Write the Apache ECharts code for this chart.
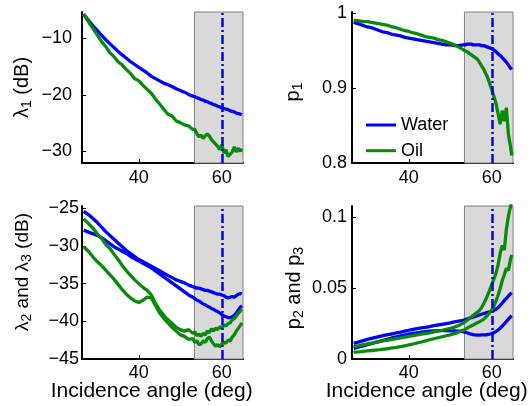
<!DOCTYPE html>
<html>
<head>
<meta charset="utf-8">
<script src="https://cdn.jsdelivr.net/npm/echarts@6/dist/echarts.min.js"></script>
<style>
html,body{margin:0;padding:0;background:#fff;}
#chart{width:531px;height:406px;}
</style>
</head>
<body>
<div id="chart"></div>
<script>
// ---------------- data ----------------
const angles = [26.7, 28, 29, 30, 31, 32, 33, 34, 35, 36, 37, 38, 39, 40, 41, 42, 43, 44, 45, 46, 47, 48, 49, 50, 51, 52, 53,
  53.5, 54, 54.5, 55, 55.5, 56, 56.5, 57, 57.5, 58, 58.5, 59, 59.5, 60, 60.5, 61, 61.5, 62, 62.5, 63, 63.5, 64, 64.5, 64.8];

const lambda1Water = [-5.7, -6.9, -7.8, -8.6, -9.4, -10.2, -10.9, -11.6, -12.3, -12.9, -13.5, -14.1, -14.6, -15.1, -15.6, -16.1, -16.7, -17.1, -17.5, -17.9, -18.2, -18.5, -18.9, -19.2, -19.5, -19.9, -20.2,
  -20.3, -20.5, -20.6, -20.8, -20.9, -21.1, -21.2, -21.4, -21.5, -21.7, -21.8, -22.0, -22.1, -22.3, -22.4, -22.5, -22.6, -22.8, -22.9, -23.0, -23.2, -23.3, -23.4, -23.5];
const lambda1Oil = [-5.7, -7.2, -8.3, -9.4, -10.5, -11.4, -12.5, -13.2, -14.1, -14.7, -15.5, -16.2, -17.1, -17.5, -18.3, -19.0, -19.7, -20.7, -21.6, -22.5, -23.4, -23.7, -24.6, -24.9, -25.3, -25.5, -26.1,
  -26.1, -26.9, -27.4, -27.1, -27.7, -27.2, -26.9, -27.3, -27.9, -28.3, -28.7, -29.1, -29.7, -28.8, -30.3, -29.7, -30.9, -30.5, -30.1, -29.2, -30.1, -29.4, -30.0, -29.5];

const p1Water = [0.988, 0.986, 0.984, 0.982, 0.981, 0.979, 0.977, 0.975, 0.974, 0.972, 0.971, 0.970, 0.968, 0.967, 0.966, 0.965, 0.964, 0.963, 0.962, 0.961, 0.960, 0.959, 0.958, 0.958, 0.957, 0.957, 0.958,
  0.958, 0.959, 0.959, 0.959, 0.958, 0.958, 0.958, 0.958, 0.957, 0.957, 0.956, 0.955, 0.954, 0.953, 0.951, 0.949, 0.946, 0.944, 0.941, 0.938, 0.935, 0.931, 0.927, 0.925];
const p1Oil = [0.991, 0.990, 0.989, 0.989, 0.988, 0.987, 0.986, 0.985, 0.984, 0.982, 0.981, 0.979, 0.977, 0.976, 0.974, 0.973, 0.971, 0.969, 0.968, 0.967, 0.965, 0.964, 0.962, 0.960, 0.958, 0.955, 0.952,
  0.950, 0.949, 0.947, 0.945, 0.943, 0.941, 0.939, 0.935, 0.930, 0.926, 0.920, 0.914, 0.906, 0.898, 0.889, 0.880, 0.866, 0.852, 0.870, 0.856, 0.874, 0.838, 0.822, 0.810];

const lambda2Water = [-25.4, -25.9, -26.4, -26.9, -27.5, -28.1, -28.6, -29.1, -29.6, -30.1, -30.6, -31.0, -31.4, -31.8, -32.1, -32.4, -32.7, -33.0, -33.3, -33.6, -33.9, -34.2, -34.5, -34.7, -34.9, -35.2, -35.4,
  -35.5, -35.6, -35.6, -35.7, -35.8, -35.9, -35.9, -36.0, -36.1, -36.2, -36.3, -36.4, -36.4, -36.5, -36.6, -36.8, -36.9, -36.8, -36.7, -36.8, -36.6, -36.4, -36.3, -36.4];
const lambda3Water = [-27.9, -28.2, -28.4, -28.6, -28.9, -29.3, -29.7, -30.1, -30.4, -30.7, -31.0, -31.4, -31.7, -32.0, -32.3, -32.6, -32.9, -33.3, -33.7, -34.1, -34.5, -34.9, -35.3, -35.7, -36.1, -36.5, -36.8,
  -37.0, -37.2, -37.3, -37.5, -37.7, -37.8, -38.0, -38.1, -38.3, -38.4, -38.6, -38.7, -38.9, -39.1, -39.3, -39.4, -39.5, -39.5, -39.4, -39.2, -38.9, -38.5, -38.1, -37.9];
const lambda2Oil = [-26.4, -27.1, -27.7, -28.4, -29.0, -29.8, -30.3, -31.1, -31.8, -32.6, -33.3, -33.9, -34.5, -35.0, -35.5, -35.9, -36.5, -37.6, -38.5, -39.2, -39.8, -40.3, -40.8, -41.1, -41.3, -41.1, -41.6,
  -41.4, -41.9, -41.7, -42.0, -41.6, -41.8, -41.3, -41.5, -41.0, -41.3, -40.9, -41.1, -40.7, -40.9, -40.5, -40.6, -40.3, -40.2, -39.8, -39.6, -39.3, -38.9, -38.6, -38.4];
const lambda3Oil = [-30.1, -30.8, -31.5, -32.1, -32.6, -33.2, -33.8, -34.4, -35.1, -35.8, -36.4, -36.9, -37.3, -37.5, -37.2, -36.8, -36.9, -37.9, -38.9, -39.6, -40.2, -40.8, -41.3, -41.8, -42.0, -42.4, -42.3,
  -42.8, -42.6, -43.1, -43.0, -42.6, -42.8, -42.3, -42.1, -42.6, -43.0, -43.3, -43.1, -43.4, -43.0, -42.8, -42.9, -42.5, -42.6, -42.1, -41.8, -41.3, -40.9, -40.5, -40.2];

const p2Water = [0.0110, 0.0121, 0.0130, 0.0138, 0.0146, 0.0153, 0.0160, 0.0166, 0.0172, 0.0178, 0.0184, 0.0190, 0.0197, 0.0203, 0.0209, 0.0214, 0.0219, 0.0224, 0.0229, 0.0235, 0.0240, 0.0245, 0.0250, 0.0255, 0.0262, 0.0268, 0.0273,
  0.0277, 0.0282, 0.0287, 0.0291, 0.0296, 0.0301, 0.0306, 0.0311, 0.0316, 0.0320, 0.0325, 0.0329, 0.0333, 0.0337, 0.0343, 0.0352, 0.0364, 0.0378, 0.0395, 0.0413, 0.0428, 0.0445, 0.0460, 0.0468];
const p3Water = [0.0075, 0.0085, 0.0093, 0.0101, 0.0109, 0.0117, 0.0125, 0.0133, 0.0141, 0.0149, 0.0156, 0.0163, 0.0169, 0.0175, 0.0180, 0.0185, 0.0189, 0.0193, 0.0196, 0.0198, 0.0200, 0.0201, 0.0200, 0.0199, 0.0198, 0.0196, 0.0193,
  0.0190, 0.0185, 0.0180, 0.0175, 0.0172, 0.0170, 0.0169, 0.0169, 0.0170, 0.0170, 0.0171, 0.0173, 0.0176, 0.0180, 0.0186, 0.0194, 0.0205, 0.0217, 0.0232, 0.0248, 0.0265, 0.0282, 0.0298, 0.0305];
const p2Oil = [0.0088, 0.0095, 0.0101, 0.0107, 0.0112, 0.0118, 0.0124, 0.0129, 0.0134, 0.0139, 0.0144, 0.0149, 0.0155, 0.0160, 0.0165, 0.0170, 0.0175, 0.0180, 0.0185, 0.0191, 0.0197, 0.0203, 0.0210, 0.0217, 0.0225, 0.0237, 0.0252,
  0.0261, 0.0272, 0.0284, 0.0296, 0.0308, 0.0319, 0.0330, 0.0342, 0.0362, 0.0388, 0.0418, 0.0452, 0.0488, 0.0527, 0.0565, 0.0604, 0.0662, 0.0745, 0.0802, 0.0768, 0.0915, 0.1010, 0.1075, 0.1120];
const p3Oil = [0.0048, 0.0051, 0.0054, 0.0057, 0.0060, 0.0063, 0.0066, 0.0070, 0.0074, 0.0078, 0.0082, 0.0087, 0.0093, 0.0099, 0.0106, 0.0113, 0.0120, 0.0128, 0.0136, 0.0143, 0.0150, 0.0157, 0.0164, 0.0171, 0.0179, 0.0190, 0.0202,
  0.0209, 0.0217, 0.0225, 0.0233, 0.0240, 0.0248, 0.0256, 0.0263, 0.0271, 0.0280, 0.0294, 0.0310, 0.0328, 0.0348, 0.0375, 0.0410, 0.0450, 0.0498, 0.0552, 0.0595, 0.0640, 0.0625, 0.0705, 0.0735];

const xTicks = [40, 60];
const yTicksLambda1 = [-30, -20, -10];
const yTicksP1 = [0.8, 0.9, 1];
const yTicksLambda23 = [-45, -40, -35, -30, -25];
const yTicksP23 = [0, 0.05, 0.1];

const angleRange = [26.3, 65.1];
const shadeStart = 53.4;
const markAngle = 60.2;
const seriesNames = ['Water', 'Oil'];

// ---------------- chart ----------------
const FF = '"Liberation Sans", Arial, Helvetica, sans-serif';
const BLUE = '#0000ff';
const GREEN = '#0a8a0a';

const grids = [
  {left: 82, top: 12, width: 161, height: 151},
  {left: 352, top: 12, width: 161, height: 151},
  {left: 82, top: 206, width: 161, height: 153},
  {left: 352, top: 206, width: 161, height: 153}
];
const xMargins = [6, 6, 5, 5];

function fmt(v) { return String(v).replace('-', '\u2212'); }

const xAxes = grids.map((g, i) => ({
  type: 'value', gridIndex: i, min: angleRange[0], max: angleRange[1],
  splitLine: {show: false},
  axisLine: {onZero: false, lineStyle: {color: '#000', width: 2}},
  axisTick: {inside: true, length: 4, customValues: xTicks, lineStyle: {color: '#000', width: 1}},
  axisLabel: {customValues: xTicks, fontSize: 18, color: '#000', fontFamily: FF, margin: xMargins[i]}
}));

function yAxis(i, min, max, ticks, margin) {
  return {
    type: 'value', gridIndex: i, min: min, max: max,
    splitLine: {show: false},
    axisLine: {show: true, onZero: false, lineStyle: {color: '#000', width: 2}},
    axisTick: {inside: true, length: 4, customValues: ticks, lineStyle: {color: '#000', width: 1}},
    axisLabel: {customValues: ticks, fontSize: 18, color: '#000', fontFamily: FF, margin: margin, formatter: fmt}
  };
}
const yAxes = [
  yAxis(0, -32.05, -5.3, yTicksLambda1, 10),
  yAxis(1, 0.8, 1.002, yTicksP1, 5),
  yAxis(2, -45, -24.7, yTicksLambda23, 3),
  yAxis(3, 0, 0.108, yTicksP23, 5)
];

function pairs(arr) { return angles.map((a, k) => [a, arr[k]]); }

const series = [];
for (let i = 0; i < 4; i++) {
  series.push({
    type: 'line', xAxisIndex: i, yAxisIndex: i, data: [], z: 1, silent: true,
    markArea: {silent: true, itemStyle: {color: '#d9d9d9', borderColor: '#808080', borderWidth: 1},
      data: [[{xAxis: shadeStart}, {xAxis: angleRange[1]}]]}
  });
}
function curve(i, name, color, arr) {
  series.push({
    type: 'line', name: name, xAxisIndex: i, yAxisIndex: i, data: pairs(arr), z: 2,
    showSymbol: false, symbol: 'none', silent: true, clip: true,
    lineStyle: {color: color, width: 3.3}, itemStyle: {color: color}
  });
}
curve(0, seriesNames[0], BLUE, lambda1Water);
curve(0, seriesNames[1], GREEN, lambda1Oil);
curve(1, seriesNames[0], BLUE, p1Water);
curve(1, seriesNames[1], GREEN, p1Oil);
curve(2, seriesNames[0], BLUE, lambda2Water);
curve(2, seriesNames[0], BLUE, lambda3Water);
curve(2, seriesNames[1], GREEN, lambda2Oil);
curve(2, seriesNames[1], GREEN, lambda3Oil);
curve(3, seriesNames[0], BLUE, p2Water);
curve(3, seriesNames[0], BLUE, p3Water);
curve(3, seriesNames[1], GREEN, p2Oil);
curve(3, seriesNames[1], GREEN, p3Oil);
for (let i = 0; i < 4; i++) {
  series.push({
    type: 'line', xAxisIndex: i, yAxisIndex: i, data: [], z: 3, silent: true,
    markLine: {silent: true, symbol: 'none', label: {show: false},
      lineStyle: {color: BLUE, width: 2.5, type: [9, 3, 2, 3]},
      data: [{xAxis: markAngle}]}
  });
}

const TITLE = {fontSize: 20, fill: '#000', fontFamily: FF};
const SUB = {fontSize: 14, fontFamily: FF, fill: '#000', padding: [9, 0, 0, 0]};
function rtext(x, y, text, rot, size) {
  return {type: 'text', x: x, y: y, rotation: rot ? Math.PI / 2 : 0, z: 10,
    style: Object.assign({}, TITLE, {text: text, fontSize: size || 20, align: 'center', verticalAlign: 'middle',
      rich: {n: {fontSize: size || 20, fontFamily: FF, fill: '#000'}, s: SUB}})};
}

const option = {
  animation: false,
  backgroundColor: '#fff',
  grid: grids,
  xAxis: xAxes,
  yAxis: yAxes,
  legend: {
    data: seriesNames, left: 361, top: 111, orient: 'vertical',
    icon: 'rect', itemWidth: 30, itemHeight: 3, itemGap: 7.7,
    textStyle: {fontSize: 18, color: '#000', fontFamily: FF, lineHeight: 18},
    selectedMode: false
  },
  series: series,
  graphic: [
    rtext(22.5, 87.5, '{n|\u03bb}{s|1}{n| (dB)}', true),
    rtext(293.7, 92, '{n|p}{s|1}', true),
    rtext(22.5, 272, '{n|\u03bb}{s|2}{n| and \u03bb}{s|3}{n| (dB)}', true, 19),
    rtext(294.8, 288, '{n|p}{s|2}{n| and p}{s|3}', true),
    rtext(151.7, 391, 'Incidence angle (deg)', false, 21),
    rtext(426.7, 391, 'Incidence angle (deg)', false, 21)
  ]
};

const chart = echarts.init(document.getElementById('chart'), null, {renderer: 'canvas'});
chart.setOption(option);
</script>
</body>
</html>
